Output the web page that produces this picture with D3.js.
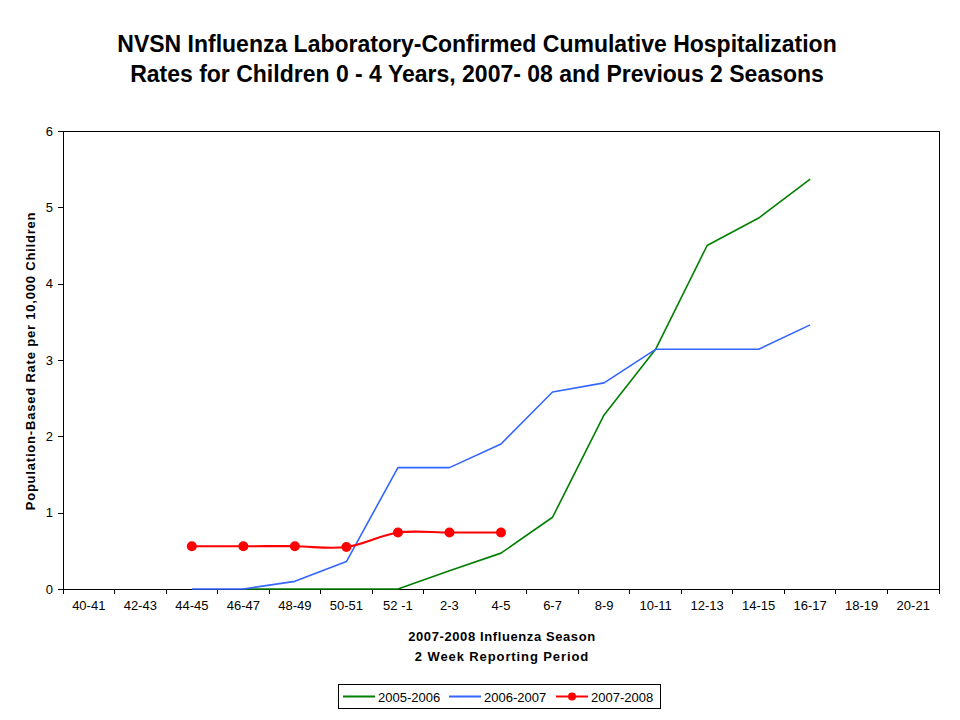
<!DOCTYPE html>
<html><head><meta charset="utf-8">
<script src="https://cdn.jsdelivr.net/npm/d3@7"></script>
<style>body{margin:0;background:#fff;} text{font-family:"Liberation Sans",Arial,sans-serif;}</style>
</head><body><svg id="c" width="960" height="720"></svg>
<script>
const categories = ["40-41","42-43","44-45","46-47","48-49","50-51","52 -1","2-3","4-5","6-7","8-9","10-11","12-13","14-15","16-17","18-19","20-21"];
const s2005 = [null,null,null,0,0,0,0,0.24,0.47,0.94,2.28,3.14,4.50,4.86,5.37,null,null];
const s2006 = [null,null,0,0,0.10,0.36,1.59,1.59,1.90,2.58,2.70,3.14,3.14,3.14,3.46,null,null];
const s2007 = [null,null,0.56,0.56,0.56,0.55,0.74,0.74,0.74,null,null,null,null,null,null,null,null];
const yTicks = [0,1,2,3,4,5,6];
const seriesNames = ["2005-2006","2006-2007","2007-2008"];
const seriesColors = ["#007f00","#3366ff","#ff0000"];

const svg = d3.select("#c");
const L=63, R=939, T=131, B=589;
const x = d3.scaleBand().domain(categories).range([L,R]);
const y = d3.scaleLinear().domain([0,6]).range([B,T]);

svg.append("rect").attr("x",L).attr("y",T).attr("width",R-L).attr("height",B-T)
  .attr("fill","none").attr("stroke","#000").attr("stroke-width",1).attr("shape-rendering","crispEdges");

const ya = svg.append("g").attr("transform",`translate(${L},0)`)
  .call(d3.axisLeft(y).tickValues(yTicks).tickSize(5).tickPadding(5).tickFormat(d3.format("d")));
ya.select(".domain").attr("shape-rendering","crispEdges");
ya.selectAll("line").attr("shape-rendering","crispEdges");
ya.selectAll("text").attr("font-size",13).attr("font-family","Liberation Sans, Arial");

const xa = svg.append("g").attr("transform",`translate(0,${B})`);
xa.append("line").attr("x1",L).attr("x2",R).attr("y1",0).attr("y2",0).attr("stroke","#000").attr("shape-rendering","crispEdges");
const bounds = categories.map(c=>x(c)).concat([R]);
xa.selectAll("line.tk").data(bounds).enter().append("line").attr("class","tk")
  .attr("x1",d=>d).attr("x2",d=>d).attr("y1",0).attr("y2",5).attr("stroke","#000").attr("shape-rendering","crispEdges");
xa.selectAll("text").data(categories).enter().append("text")
  .attr("x",d=>x(d)+x.bandwidth()/2).attr("y",21).attr("text-anchor","middle")
  .attr("font-size",13).text(d=>d);

const allSeries=[s2005,s2006,s2007];
allSeries.forEach((s,i)=>{
  const pts = categories.map((c,j)=>({c,v:s[j]})).filter(d=>d.v!==null);
  const line = d3.line().x(d=>x(d.c)+x.bandwidth()/2).y(d=>y(d.v))
    .curve(i===2? d3.curveCatmullRom.alpha(0.5) : d3.curveLinear);
  svg.append("path").datum(pts).attr("d",line).attr("fill","none")
    .attr("stroke",seriesColors[i]).attr("stroke-width",i===2?2.2:1.6).attr("stroke-linejoin","round");
  if(i===2){
    svg.selectAll("circle.m").data(pts).enter().append("circle")
      .attr("cx",d=>x(d.c)+x.bandwidth()/2).attr("cy",d=>y(d.v)).attr("r",5).attr("fill",seriesColors[i]);
  }
});

svg.append("text").attr("x",477).attr("y",52).attr("text-anchor","middle").attr("font-size",23).attr("font-weight","bold")
  .text("NVSN Influenza Laboratory-Confirmed Cumulative Hospitalization");
svg.append("text").attr("x",477).attr("y",82).attr("text-anchor","middle").attr("font-size",23).attr("font-weight","bold")
  .text("Rates for Children 0 - 4 Years, 2007- 08 and Previous 2 Seasons");
svg.append("text").attr("transform","translate(35,361) rotate(-90)").attr("text-anchor","middle")
  .attr("font-size",13).attr("font-weight","bold").attr("letter-spacing",0.8).text("Population-Based Rate per 10,000 Children");
svg.append("text").attr("x",502).attr("y",641).attr("text-anchor","middle").attr("font-size",13).attr("font-weight","bold")
  .attr("letter-spacing",0.6).text("2007-2008 Influenza Season");
svg.append("text").attr("x",502).attr("y",661).attr("text-anchor","middle").attr("font-size",13).attr("font-weight","bold")
  .attr("letter-spacing",0.9).text("2 Week Reporting Period");

const lg = svg.append("g");
lg.append("rect").attr("x",338.5).attr("y",684.5).attr("width",322).attr("height",24).attr("fill","#fff").attr("stroke","#000");
const lx=[343,449,556];
seriesNames.forEach((n,i)=>{
  lg.append("line").attr("x1",lx[i]).attr("x2",lx[i]+32).attr("y1",696.5).attr("y2",696.5)
    .attr("stroke",seriesColors[i]).attr("stroke-width",2);
  if(i===2) lg.append("circle").attr("cx",lx[i]+16).attr("cy",696.5).attr("r",4).attr("fill",seriesColors[i]);
  lg.append("text").attr("x",lx[i]+35).attr("y",701.5).attr("font-size",13).text(n);
});
</script></body></html>
